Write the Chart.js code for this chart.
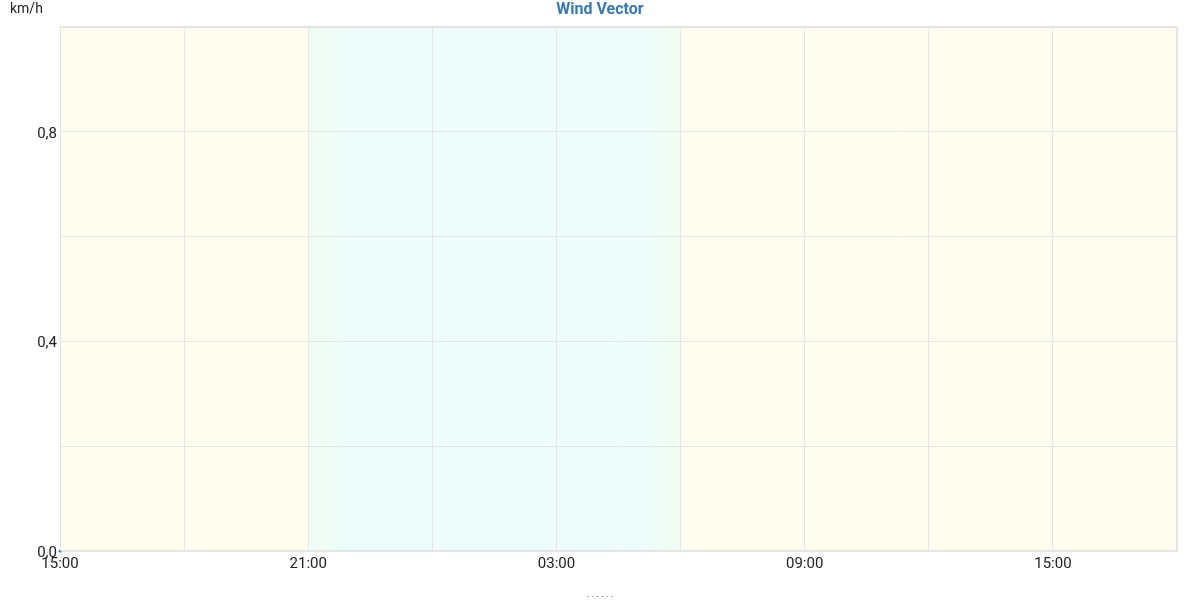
<!DOCTYPE html>
<html>
<head>
<meta charset="utf-8">
<script src="https://cdn.jsdelivr.net/npm/chart.js@4/dist/chart.umd.min.js"></script>
<style>
html,body{margin:0;padding:0;background:#fff;}
#wrap{width:1200px;height:600px;position:relative;}
</style>
</head>
<body>
<div id="wrap"><canvas id="c" width="1200" height="600"></canvas></div>
<script>
// hours after 15:00 start
const timeHours = [0];
const windValues = [0];
const xTickLabels = {0:"15:00", 6:"21:00", 12:"03:00", 18:"09:00", 24:"15:00"};
const yTickLabels = {0:"0,0", 0.4:"0,4", 0.8:"0,8"};
const nightStart = 6;   // 21:00
const nightFull = 7;    // 22:00
const nightFade = 14;   // 05:00
const nightEnd = 15;    // 06:00
const xMin = 0, xMax = 27;

const bgPlugin = {
  id:'bg',
  beforeDraw(chart){
    const {ctx, chartArea:a, scales:{x}} = chart;
    const w = a.right - a.left;
    const f = v => (x.getPixelForValue(v) - a.left) / w;
    const g = ctx.createLinearGradient(a.left,0,a.right,0);
    const day = '#fffdf0', night = '#eefcfc', mid = '#f0fff2';
    g.addColorStop(0, day);
    g.addColorStop(f(nightStart)-0.0005, day);
    g.addColorStop(f(nightStart), mid);
    g.addColorStop(f(nightFull), night);
    g.addColorStop(f(nightFade), night);
    g.addColorStop(f(nightEnd)-0.0005, mid);
    g.addColorStop(f(nightEnd), day);
    g.addColorStop(1, day);
    ctx.save();
    ctx.fillStyle = g;
    ctx.fillRect(a.left, a.top, w, a.bottom - a.top);
    ctx.restore();
  },
  afterDraw(chart){
    const {ctx, chartArea:a} = chart;
    ctx.save();
    ctx.strokeStyle = '#e4e4e4';
    ctx.lineWidth = 1;
    ctx.strokeRect(a.left+0.5, a.top+0.5, a.right-a.left-1, a.bottom-a.top-1);
    ctx.beginPath(); ctx.moveTo(a.left, a.top-0.5); ctx.lineTo(a.right, a.top-0.5); ctx.stroke();
    ctx.fillStyle = '#222';
    ctx.font = '14px Roboto';
    ctx.textAlign = 'left';
    ctx.textBaseline = 'middle';
    ctx.fillText('km/h', 10, 9);
    ctx.fillStyle = '#3779b6';
    ctx.font = 'bold 16px Roboto';
    ctx.textAlign = 'center';
    ctx.fillText('Wind Vector', 600, 10);
    ctx.fillStyle = '#888';
    ctx.font = '9px Roboto';
    ctx.fillText('- - - - - -', 600, 597);
    ctx.restore();
  }
};

new Chart(document.getElementById('c'), {
  type:'scatter',
  data:{
    datasets:[{
      label:'Wind',
      data: timeHours.map((t,i)=>({x:t,y:windValues[i]})),
      pointRadius:1.5,
      pointBackgroundColor:'#3779b6',
      pointBorderWidth:0,
      showLine:false,
      clip:false
    }]
  },
  plugins:[bgPlugin],
  options:{
    responsive:false,
    animation:false,
    layout:{padding:{top:27,right:23,left:0,bottom:0}},
    plugins:{legend:{display:false},title:{display:false},tooltip:{enabled:false}},
    scales:{
      x:{
        type:'linear', min:xMin, max:xMax,
        grid:{color:'#e6e6e6', drawTicks:false},
        border:{display:false},
        ticks:{stepSize:3, autoSkip:false, maxRotation:0, padding:4,
          color:'#222', font:{family:'Roboto', size:15},
          callback:v=> (v in xTickLabels) ? xTickLabels[v] : ''},
        afterFit(s){ s.height = 49; }
      },
      y:{
        min:0, max:1,
        grid:{color:'#e6e6e6', drawTicks:false},
        border:{display:false},
        ticks:{stepSize:0.2, autoSkip:false, padding:3, labelOffset:2,
          color:'#222', font:{family:'Roboto', size:15},
          callback:v=>{const k=Math.round(v*10)/10; return (k in yTickLabels) ? yTickLabels[k] : '';}},
        afterFit(s){ s.width = 60; }
      }
    }
  }
});
</script>
</body>
</html>
